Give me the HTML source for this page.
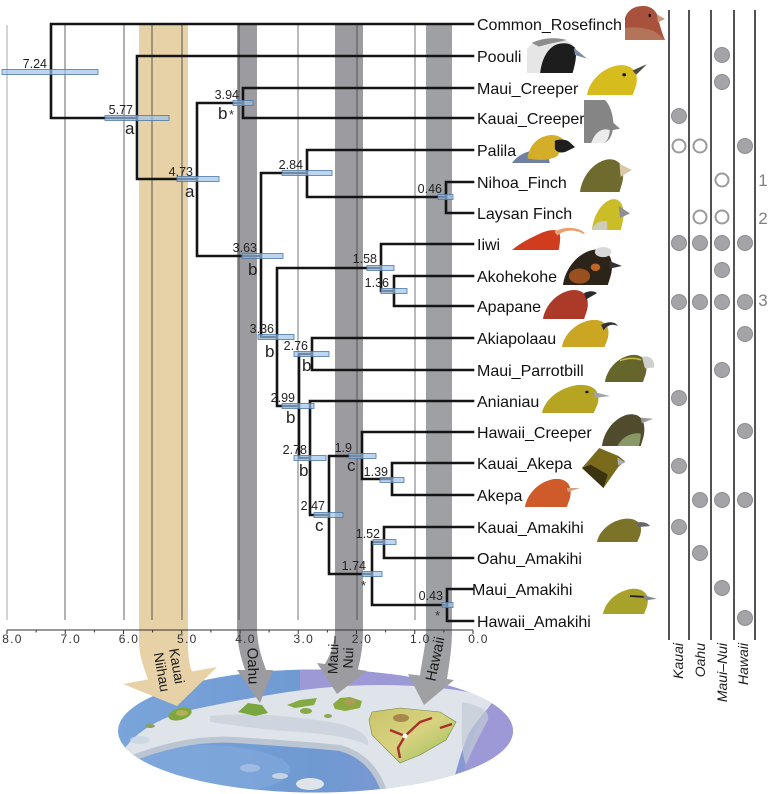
<!DOCTYPE html>
<html><head><meta charset="utf-8"><style>
html,body{margin:0;padding:0;background:#fff;}
svg{display:block;font-family:"Liberation Sans",sans-serif;}
</style></head><body>
<svg width="769" height="794" viewBox="0 0 769 794" xmlns="http://www.w3.org/2000/svg">
<defs>
<clipPath id="ec"><ellipse cx="315.5" cy="731" rx="197.5" ry="61.5"/></clipPath>
<linearGradient id="sea" x1="0" x2="1" y1="0" y2="0">
<stop offset="0" stop-color="#7aa5db"/><stop offset="0.5" stop-color="#6f99d1"/><stop offset="1" stop-color="#8f97d6"/>
</linearGradient>
<linearGradient id="bi" x1="0" x2="1" y1="0" y2="1">
<stop offset="0" stop-color="#c9c46a"/><stop offset="0.5" stop-color="#d8d280"/><stop offset="1" stop-color="#96be58"/>
</linearGradient>
</defs>

<!-- MAP -->
<g clip-path="url(#ec)">
<rect x="110" y="665" width="410" height="130" fill="url(#sea)"/>
<ellipse cx="200" cy="770" rx="90" ry="25" fill="#80a8dc" opacity="0.7"/>
<path d="M300,660 L520,660 L520,800 L460,800 C462,770 470,745 478,725 C485,712 490,705 494,700 C470,690 440,686 400,686 C360,686 330,688 300,690 Z" fill="#9d99d7"/>
<path d="M125,748 C140,728 165,715 200,708 C240,700 280,692 320,688 C360,684 400,684 440,688 C462,690 480,694 494,700 C486,712 475,722 468,735 C460,755 455,775 450,794 L385,794 C378,772 365,755 340,748 C300,744 265,742 235,740 C200,738 165,745 128,760 Z" fill="#dfe3ea"/>
<path d="M128,760 C165,745 200,738 235,740 C265,742 300,744 340,748 C365,755 378,772 385,794" fill="none" stroke="#bcc5d2" stroke-width="6"/>
<path d="M210,716 C250,712 290,716 330,722 C355,726 370,735 368,745 C350,738 330,734 300,732 C265,730 240,726 210,722 Z" fill="#c8ced8" opacity="0.7"/>
<path d="M462,702 C480,706 490,710 488,720 C480,735 472,750 466,765 C460,750 462,725 462,702 Z" fill="#c3cad6" opacity="0.7"/>
<ellipse cx="310" cy="784" rx="14" ry="6" fill="#dfe3ea"/>
<ellipse cx="280" cy="776" rx="8" ry="3" fill="#c8d3e3"/>
<ellipse cx="250" cy="768" rx="10" ry="4" fill="#9fbbe2"/>
<ellipse cx="140" cy="740" rx="10" ry="4" fill="#c8d4e6" opacity="0.8"/>
<!-- islands -->
<ellipse cx="150" cy="726" rx="5" ry="2" fill="#8aa060"/>
<ellipse cx="180" cy="714" rx="12" ry="6" transform="rotate(-15 180 714)" fill="#7ea73e"/>
<ellipse cx="182" cy="713" rx="6" ry="3" fill="#b6ae56"/>
<path d="M238,712 L248,703 L262,705 L268,713 L255,716 Z" fill="#7aa640"/>
<path d="M287,705 L300,700 L317,698 L314,705 L295,708 Z" fill="#84aa44"/>
<ellipse cx="306" cy="711" rx="6" ry="3" fill="#86aa48"/>
<ellipse cx="328" cy="716" rx="4" ry="2" fill="#8aa850"/>
<path d="M333,704 L340,698 L350,697 L362,701 L360,708 L345,711 L335,709 Z" fill="#8aaa40"/>
<ellipse cx="350" cy="702" rx="6" ry="3" fill="#b09a55"/>
<path d="M372,712 L400,708 L440,712 L456,722 L446,740 L420,755 L400,763 L385,748 L372,735 L369,720 Z" fill="url(#bi)" stroke="#6f8a44" stroke-width="0.6"/>
<ellipse cx="401" cy="718" rx="8" ry="4" fill="#a8874c"/>
<path d="M405,736 L420,722 L432,718 M405,736 L398,748 L400,758 M405,736 L390,730 M440,728 L452,724" stroke="#a8302a" stroke-width="2.4" fill="none"/>
<circle cx="405" cy="736" r="2.5" fill="#fff"/>
</g>

<!-- BANDS / ARROWS -->
<path d="M139,25 L188,25 L188,640 C188,655 189,664 192,671.5 L217,667 L177,706 L123,684 L148,679.5 C143,665 139,655 139,640 Z" fill="#e6d2a6"/>
<path d="M237,25 H257 V630 C258,650 263,660 266,670 H273 L260,703 L237,670 H245 C242,660 238,650 237,630 Z" fill="#9c9ca0"/>
<path d="M335,25 H363 V630 C363,650 360,660 358,669.5 L367,671 L337,694 L317,663 L325,664 C330,655 335,645 335,630 Z" fill="#9c9ca0"/>
<path d="M426,25 H452 V630 C452,650 449,665 447,679 L454,680 L424,705 L408,674 L420,675.5 C422,660 426,645 426,630 Z" fill="#9fa0a4"/>

<!-- arrow labels -->
<g font-size="14" fill="#1a1a1a" text-anchor="middle">
<text transform="translate(177,666) rotate(80)" y="5">Kauai</text>
<text transform="translate(162,672) rotate(80)" y="5">Niihau</text>
<text transform="translate(253,666) rotate(88)" y="5" font-size="15">Oahu</text>
<text transform="translate(333,655) rotate(-88)" y="5">Maui–</text>
<text transform="translate(348,658) rotate(-88)" y="5">Nui</text>
<text transform="translate(435,659) rotate(-78)" y="5" font-size="15">Hawaii</text>
</g>

<!-- GRID -->
<g stroke-width="1">
<line x1="7" y1="25" x2="7" y2="620" stroke="#aaa"/>
<line x1="65" y1="25" x2="65" y2="620" stroke="#666"/>
<line x1="124" y1="25" x2="124" y2="620" stroke="#666"/>
<line x1="152" y1="25" x2="152" y2="620" stroke="#555"/>
<line x1="182" y1="25" x2="182" y2="620" stroke="#555"/>
<line x1="239" y1="25" x2="239" y2="620" stroke="#555"/>
<line x1="298" y1="25" x2="298" y2="620" stroke="#777"/>
<line x1="357" y1="25" x2="357" y2="620" stroke="#555"/>
<line x1="415" y1="25" x2="415" y2="620" stroke="#777"/>
</g>

<!-- AXIS -->
<g stroke="#333" stroke-width="1">
<line x1="7" y1="630" x2="473" y2="630"/>
<path d="M7,630v4 M65.25,630v4 M123.5,630v4 M181.75,630v4 M240,630v4 M298.25,630v4 M356.5,630v4 M414.75,630v4 M473,630v4 M36.1,630v2.5 M94.4,630v2.5 M152.6,630v2.5 M210.9,630v2.5 M269.1,630v2.5 M327.4,630v2.5 M385.6,630v2.5 M443.9,630v2.5"/>
</g>
<g font-size="12" fill="#333" text-anchor="middle" letter-spacing="1.3">
<text x="12.5" y="643">8.0</text><text x="70.8" y="643">7.0</text><text x="129" y="643">6.0</text>
<text x="187.3" y="643">5.0</text><text x="245.5" y="643">4.0</text><text x="303.8" y="643">3.0</text>
<text x="362" y="643">2.0</text><text x="420.3" y="643">1.0</text><text x="478.5" y="643">0.0</text>
</g>

<!-- TREE -->
<path fill="none" stroke="#141414" stroke-width="2.6" stroke-linecap="square" d="
M51,24H473 M51,24V118 M51,118H137
M137,56V179 M137,56H473 M137,179H197
M197,103V256 M197,103H243 M243,88V118 M243,88H473 M243,118H473
M197,256H261 M261,173V337 M261,173H307 M307,150V197 M307,150H473 M307,197H446 M446,182V213 M446,182H473 M446,213H473
M261,337H277 M277,268V406 M277,268H381 M381,244V291 M381,244H473 M381,291H394 M394,276V306 M394,276H473 M394,306H473
M277,406H299 M299,354V458 M299,354H312 M312,338V370 M312,338H473 M312,370H473
M299,458H310 M310,401V515 M310,401H473 M310,515H329 M329,456V574 M329,456H362 M362,432V479 M362,432H473 M362,479H392 M392,463V495 M392,463H473 M392,495H473
M329,574H372 M372,542V605 M372,542H384 M384,527V558 M384,527H473 M384,558H473 M372,605H447 M447,589V621 M447,589H473 M447,621H473"/>

<!-- BARS -->
<g fill="#9cc3ea" fill-opacity="0.68" stroke="#4d77a6" stroke-width="0.8">
<rect x="2" y="69.5" width="96" height="5"/>
<rect x="105" y="115.5" width="64" height="5"/>
<rect x="177" y="176.5" width="42" height="5"/>
<rect x="233" y="100.5" width="20" height="5"/>
<rect x="282" y="170.5" width="50" height="5"/>
<rect x="438" y="194.5" width="15" height="5"/>
<rect x="242" y="253.5" width="41" height="5"/>
<rect x="367" y="265.5" width="27" height="5"/>
<rect x="381" y="288.5" width="26" height="5"/>
<rect x="258" y="334.5" width="36" height="5"/>
<rect x="294" y="351.5" width="35" height="5"/>
<rect x="282" y="403.5" width="32" height="5"/>
<rect x="294" y="455.5" width="32" height="5"/>
<rect x="349" y="453.5" width="27" height="5"/>
<rect x="380" y="477.5" width="24" height="5"/>
<rect x="314" y="512.5" width="29" height="5"/>
<rect x="373" y="539.5" width="23" height="5"/>
<rect x="362" y="571.5" width="20" height="5"/>
<rect x="442" y="602.5" width="11" height="5"/>
</g>

<!-- NODE LABELS -->
<g font-size="12.5" fill="#222" text-anchor="end">
<text x="47" y="68">7.24</text><text x="133" y="114">5.77</text><text x="193" y="176">4.73</text>
<text x="239" y="99">3.94</text><text x="303" y="169">2.84</text><text x="442" y="193">0.46</text>
<text x="257" y="252">3.63</text><text x="377" y="263">1.58</text><text x="389" y="287">1.36</text>
<text x="274" y="333">3.36</text><text x="308" y="350">2.76</text><text x="295" y="402">2.99</text>
<text x="307" y="454">2.78</text><text x="352" y="452">1.9</text><text x="388" y="476">1.39</text>
<text x="325" y="510">2.47</text><text x="380" y="538">1.52</text><text x="366" y="570">1.74</text>
<text x="443" y="600">0.43</text>
</g>
<g font-size="17" fill="#222">
<text x="125" y="134">a</text><text x="185" y="197">a</text><text x="218" y="119">b</text>
<text x="248" y="275">b</text><text x="265" y="357">b</text><text x="302" y="371">b</text>
<text x="286" y="423">b</text><text x="299" y="476">b</text><text x="347" y="471">c</text>
<text x="315" y="531">c</text>
</g>
<g font-size="13" fill="#333">
<text x="229" y="119">*</text><text x="361" y="590">*</text><text x="435" y="620">*</text>
</g>

<!-- TIP LABELS -->
<g font-size="16" fill="#111">
<text x="477" y="30">Common_Rosefinch</text>
<text x="477" y="62">Poouli</text>
<text x="477" y="94">Maui_Creeper</text>
<text x="477" y="124">Kauai_Creeper</text>
<text x="477" y="156">Palila</text>
<text x="477" y="188">Nihoa_Finch</text>
<text x="477" y="219">Laysan Finch</text>
<text x="477" y="250">Iiwi</text>
<text x="477" y="282">Akohekohe</text>
<text x="477" y="312">Apapane</text>
<text x="477" y="344">Akiapolaau</text>
<text x="477" y="376">Maui_Parrotbill</text>
<text x="477" y="407">Anianiau</text>
<text x="477" y="438">Hawaii_Creeper</text>
<text x="477" y="469">Kauai_Akepa</text>
<text x="477" y="501">Akepa</text>
<text x="477" y="533">Kauai_Amakihi</text>
<text x="477" y="564">Oahu_Amakihi</text>
<text x="472" y="595">Maui_Amakihi</text>
<text x="477" y="627">Hawaii_Amakihi</text>
</g>

<!-- BIRDS -->
<g transform="translate(625,5) scale(0.4,0.583)">
<path d="M0,60 L0,22 C8,6 30,0 52,2 C68,4 76,10 80,16 C84,26 90,44 100,60 Z" fill="#a8523d"/>
<path d="M0,60 L0,40 C20,36 50,40 70,44 C80,48 90,54 100,60 Z" fill="#b3745a"/>
<path d="M80,16 L100,24 L82,30 Z" fill="#c89a78"/>
<circle cx="62" cy="18" r="3" fill="#111"/>
</g>
<g transform="translate(527,37) scale(0.6,0.6)">
<path d="M0,60 L0,20 C10,6 30,0 50,2 C66,4 76,10 80,18 C84,30 80,46 76,60 Z" fill="#e6e6e6"/>
<path d="M22,60 C24,40 32,22 46,14 C60,8 72,10 80,18 C84,30 80,46 76,60 Z" fill="#1d1d1d"/>
<path d="M8,10 C25,1 50,0 66,5 C56,8 40,10 20,16 Z" fill="#8d8d8d"/>
<path d="M78,18 L100,36 L80,30 Z" fill="#7b8ca6"/>
</g>
<g transform="translate(587,63) scale(0.6,0.533)">
<path d="M0,60 C3,38 20,14 45,6 C60,1 74,5 80,16 C85,26 83,40 80,48 C78,54 77,57 76,60 Z" fill="#d6bc1c"/>
<path d="M76,14 L100,2 L82,22 Z" fill="#4a4a40"/>
<circle cx="62" cy="22" r="3" fill="#111"/>
</g>
<g transform="translate(584,100) scale(0.36,0.717)">
<path d="M0,0 L58,0 C72,6 80,20 82,32 L100,40 L80,42 C76,52 68,58 55,60 L0,60 Z" fill="#858585"/>
<path d="M20,60 C30,45 50,38 72,42 C70,52 64,58 55,60 Z" fill="#ececec"/>
</g>
<g transform="translate(512,135) scale(0.63,0.467)">
<path d="M0,60 C10,40 30,30 55,30 L60,60 Z" fill="#6f80a0"/>
<path d="M25,45 C30,15 45,2 62,0 C75,0 82,8 85,16 L72,45 C60,55 40,55 25,50 Z" fill="#d4ae28"/>
<path d="M68,12 C78,8 88,10 92,16 L100,26 L88,34 C80,40 72,38 68,30 Z" fill="#1e1e1e"/>
</g>
<g transform="translate(580,157) scale(0.52,0.583)">
<path d="M0,60 C3,38 20,14 45,6 C60,1 74,5 80,16 C85,26 83,40 80,48 C78,54 77,57 76,60 Z" fill="#6f6b2e"/>
<path d="M76,12 L100,22 L78,34 Z" fill="#d8c8a6"/>
</g>
<g transform="translate(592,197) scale(0.38,0.55)">
<path d="M0,60 C3,38 20,14 45,6 C60,1 74,5 80,16 C85,26 83,40 80,48 C78,54 77,57 76,60 Z" fill="#cabd28"/>
<path d="M0,60 C5,48 20,42 40,44 L40,60 Z" fill="#ccccb8"/>
<path d="M70,16 L100,30 L74,38 Z" fill="#8e8e96"/>
</g>
<g transform="translate(512,226) scale(0.73,0.4)">
<path d="M0,60 C8,48 20,34 35,22 C45,12 56,8 62,12 C68,18 66,40 64,60 Z" fill="#cf3d1e"/>
<path d="M58,14 C72,0 92,2 100,18 L98,20 C88,8 72,8 62,24 Z" fill="#e8a070"/>
</g>
<g transform="translate(563,247) scale(0.59,0.633)">
<path d="M0,60 C3,38 20,14 45,6 C60,1 74,5 80,16 C85,26 83,40 80,48 C78,54 77,57 76,60 Z" fill="#2c2418"/>
<ellipse cx="28" cy="46" rx="18" ry="12" fill="#b65a22" opacity="0.8"/>
<ellipse cx="55" cy="32" rx="8" ry="6" fill="#c06428"/>
<ellipse cx="68" cy="8" rx="14" ry="8" fill="#d8d8d8"/>
<path d="M78,22 L100,30 L80,34 Z" fill="#333"/>
</g>
<g transform="translate(543,288) scale(0.54,0.517)">
<path d="M0,60 C3,38 20,14 45,6 C60,1 74,5 80,16 C85,26 83,40 80,48 C78,54 77,57 76,60 Z" fill="#ab3a28"/>
<path d="M76,10 C86,4 96,6 100,10 L80,22 Z" fill="#2a2a2a"/>
</g>
<g transform="translate(562,318) scale(0.56,0.483)">
<path d="M0,60 C3,38 20,14 45,6 C60,1 74,5 80,16 C85,26 83,40 80,48 C78,54 77,57 76,60 Z" fill="#cba622"/>
<path d="M70,14 C84,6 94,8 100,16 L96,15 C88,12 80,16 74,26 Z" fill="#333"/>
</g>
<g transform="translate(605,353) scale(0.5,0.483)">
<path d="M0,60 C3,38 20,14 45,6 C60,1 74,5 80,16 C85,26 83,40 80,48 C78,54 77,57 76,60 Z" fill="#66652c"/>
<path d="M30,16 C45,10 60,10 72,14" stroke="#c8c040" stroke-width="3" fill="none"/>
<path d="M74,8 C90,4 100,14 98,30 L80,32 Z" fill="#cfcfcf"/>
</g>
<g transform="translate(542,383) scale(0.68,0.5)">
<path d="M0,60 C3,38 20,14 45,6 C60,1 74,5 80,16 C85,26 83,40 80,48 C78,54 77,57 76,60 Z" fill="#b5a522"/>
<path d="M76,18 L100,26 L78,30 Z" fill="#a0a4b0"/>
<circle cx="66" cy="18" r="2.5" fill="#111"/>
</g>
<g transform="translate(602,412) scale(0.51,0.567)">
<path d="M0,60 C3,38 20,14 45,6 C60,1 74,5 80,16 C85,26 83,40 80,48 C78,54 77,57 76,60 Z" fill="#4f4b2c"/>
<path d="M30,60 C40,44 56,36 76,38 C76,48 74,56 72,60 Z" fill="#8a9868"/>
<path d="M76,10 L100,12 L78,20 Z" fill="#9a9a9a"/>
</g>
<g transform="translate(582,448) scale(0.43,0.667)">
<path d="M0,30 L40,0 L85,12 L100,20 L85,28 L50,60 Z" fill="#7a6b1c"/>
<path d="M0,30 L50,60 L60,40 L20,25 Z" fill="#3a3310"/>
<path d="M82,14 L100,22 L84,26 Z" fill="#aab0b8"/>
</g>
<g transform="translate(525,477) scale(0.55,0.5)">
<path d="M0,60 C3,38 20,14 45,6 C60,1 74,5 80,16 C85,26 83,40 80,48 C78,54 77,57 76,60 Z" fill="#cf5a2a"/>
<path d="M76,22 L100,22 L78,30 Z" fill="#d8a080"/>
</g>
<g transform="translate(597,517) scale(0.53,0.417)">
<path d="M0,60 C3,38 20,14 45,6 C60,1 74,5 80,16 C85,26 83,40 80,48 C78,54 77,57 76,60 Z" fill="#7b7328"/>
<path d="M74,14 C86,10 96,14 100,22 L78,24 Z" fill="#666"/>
</g>
<g transform="translate(603,587) scale(0.54,0.45)">
<path d="M0,60 C3,38 20,14 45,6 C60,1 74,5 80,16 C85,26 83,40 80,48 C78,54 77,57 76,60 Z" fill="#a8a22a"/>
<path d="M50,20 L76,22" stroke="#222" stroke-width="4"/>
<path d="M74,18 L100,26 L78,30 Z" fill="#888"/>
</g>

<!-- PRESENCE COLUMNS -->
<g stroke="#1a1a1a" stroke-width="1.5">
<line x1="669" y1="10" x2="669" y2="640"/>
<line x1="689" y1="10" x2="689" y2="640"/>
<line x1="711" y1="10" x2="711" y2="640"/>
<line x1="734" y1="10" x2="734" y2="640"/>
<line x1="755" y1="10" x2="755" y2="640"/>
</g>
<g fill="#a4a4a8" stroke="#8c8c90" stroke-width="1">
<circle cx="722" cy="55" r="7.5"/>
<circle cx="722" cy="82" r="7.5"/>
<circle cx="679" cy="116" r="7.5"/>
<circle cx="745" cy="146" r="7.5"/>
<circle cx="679" cy="243" r="7.5"/><circle cx="700" cy="243" r="7.5"/><circle cx="722" cy="243" r="7.5"/><circle cx="745" cy="243" r="7.5"/>
<circle cx="722" cy="270" r="7.5"/>
<circle cx="679" cy="302" r="7.5"/><circle cx="700" cy="302" r="7.5"/><circle cx="722" cy="302" r="7.5"/><circle cx="745" cy="302" r="7.5"/>
<circle cx="745" cy="334" r="7.5"/>
<circle cx="722" cy="370" r="7.5"/>
<circle cx="679" cy="398" r="7.5"/>
<circle cx="745" cy="431" r="7.5"/>
<circle cx="679" cy="466" r="7.5"/>
<circle cx="700" cy="500" r="7.5"/><circle cx="722" cy="500" r="7.5"/><circle cx="745" cy="500" r="7.5"/>
<circle cx="679" cy="527" r="7.5"/>
<circle cx="700" cy="553" r="7.5"/>
<circle cx="722" cy="588" r="7.5"/>
<circle cx="745" cy="618" r="7.5"/>
</g>
<g fill="#fff" stroke="#9a9a9a" stroke-width="2">
<circle cx="679" cy="146" r="6.5"/><circle cx="700" cy="146" r="6.5"/>
<circle cx="722" cy="180" r="6.5"/>
<circle cx="700" cy="217" r="6.5"/><circle cx="722" cy="217" r="6.5"/>
</g>
<g font-size="17" fill="#808080" text-anchor="middle">
<text x="763" y="186">1</text><text x="763" y="224">2</text><text x="763" y="306">3</text>
</g>
<g font-size="14" font-style="italic" fill="#1a1a1a" text-anchor="end">
<text transform="translate(683,643) rotate(-90)">Kauai</text>
<text transform="translate(705,643) rotate(-90)">Oahu</text>
<text transform="translate(727,643) rotate(-90)">Maui–Nui</text>
<text transform="translate(748,643) rotate(-90)">Hawaii</text>
</g>
</svg>
</body></html>
